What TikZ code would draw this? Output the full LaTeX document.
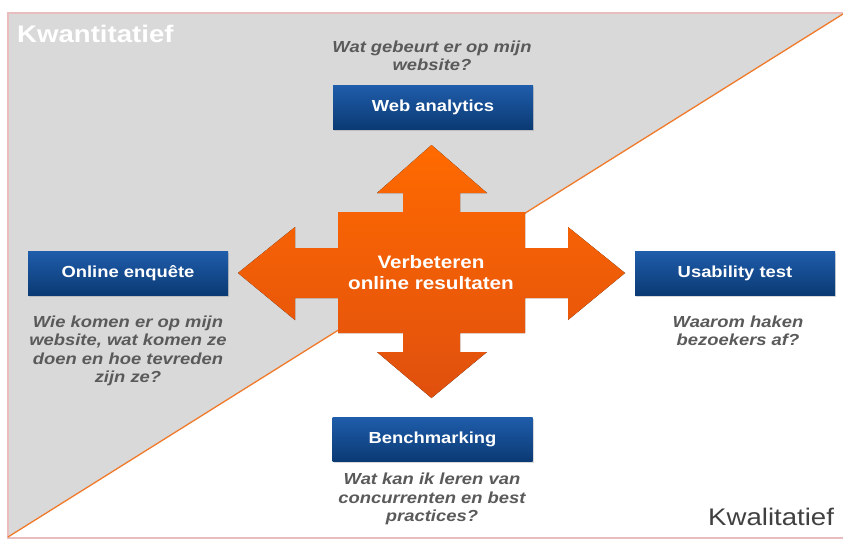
\documentclass[tikz,border=0pt]{standalone}
\usepackage{fontspec}
\setmainfont{Liberation Sans}[FakeStretch=1.15]
\usetikzlibrary{shadows}

\definecolor{kwgray}{HTML}{D9D9D9}
\definecolor{framecol}{HTML}{E9BDBD}
\definecolor{diagcol}{HTML}{F07A2A}
\definecolor{boxtop}{HTML}{1F5DAB}
\definecolor{boxbot}{HTML}{0B3A74}
\definecolor{crosstop}{HTML}{FF6A00}
\definecolor{crossbot}{HTML}{E0500E}
\definecolor{qgray}{HTML}{5A5A5A}
\definecolor{kwdark}{HTML}{404040}

\tikzset{
  methodbox/.style={minimum width=200pt, minimum height=44pt, inner sep=0pt,
    top color=boxtop, bottom color=boxbot, text=white,
    font=\fontsize{16}{19}\selectfont\bfseries,
    drop shadow={shadow xshift=1pt, shadow yshift=-2pt, opacity=0.3}},
  question/.style={align=center, inner sep=0pt, text=qgray,
    font=\fontsize{16}{18.5}\selectfont\bfseries\itshape},
}

\begin{document}
\begin{tikzpicture}[x=1pt,y=-1pt]
\useasboundingbox[fill=white] (0,0) rectangle (843,541);
\coordinate (tl) at (8,13);
\coordinate (tr) at (843,14);
\coordinate (bl) at (8,537);
%%%%%%%%%%%%%%% background halves
\fill[kwgray] (tl) -- (846,13) -- (tr) -- (bl) -- cycle;
\draw[framecol, line width=1.2pt] (tl) rectangle (846,538);
\draw[diagcol, line width=1.3pt] (bl) -- (tr);
\node[anchor=base west, inner sep=0pt, text=white, font=\fontsize{24}{28}\selectfont\bfseries] (kwan) at (17,42) {Kwantitatief};
\node[anchor=base west, inner sep=0pt, text=kwdark, font=\fontsize{24}{28}\selectfont] (kwal) at (708,525) {Kwalitatief};
%%%%%%%%%%%%%%% cross
\fill[top color=crosstop, bottom color=crossbot]
  (431.5,145) -- (487,193) -- (460,193) -- (460,212) -- (525,212) -- (525,248)
  -- (568,248) -- (568,227) -- (625,273) -- (568,320) -- (568,298) -- (525,298)
  -- (525,333) -- (460,333) -- (460,352) -- (487,352) -- (431.5,398) -- (377,352)
  -- (403,352) -- (403,333) -- (338,333) -- (338,298) -- (295,298) -- (295,320)
  -- (238,273) -- (295,227) -- (295,248) -- (338,248) -- (338,212) -- (403,212)
  -- (403,193) -- (377,193) -- cycle;
\node[align=center, inner sep=0pt, text=white, font=\fontsize{18}{21}\selectfont\bfseries] (core) at (431,273) {Verbeteren\\online resultaten};
%%%%%%%%%%%%%%% methods
\node[methodbox] (wa) at (433,107) {Web analytics};
\node[methodbox] (oe) at (128,273) {Online enquête};
\node[methodbox] (ut) at (735,273) {Usability test};
\node[methodbox] (bm) at (432.5,439) {Benchmarking};
%%%%%%%%%%%%%%% questions
\node[question] (qwa) at (432,56) {Wat gebeurt er op mijn\\website?};
\node[question] (qoe) at (128,351) {Wie komen er op mijn\\website, wat komen ze\\doen en hoe tevreden\\zijn ze?};
\node[question] (qut) at (738,331) {Waarom haken\\bezoekers af?};
\node[question] (qbm) at (432,499) {Wat kan ik leren van\\concurrenten en best\\practices?};
\end{tikzpicture}
\end{document}
